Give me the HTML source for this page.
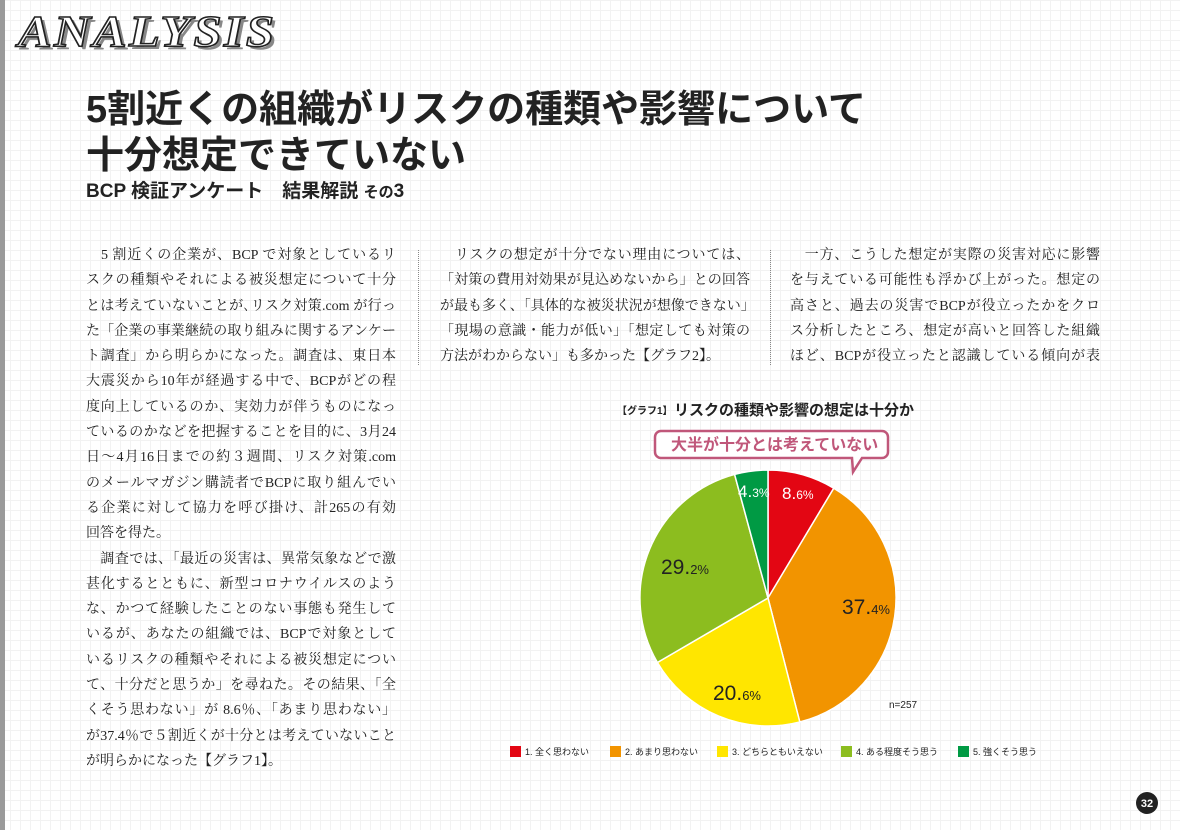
<!DOCTYPE html>
<html><head><meta charset="utf-8"><style>
body{margin:0;width:1180px;height:830px;position:relative;overflow:hidden;background:#fff;
background-image:linear-gradient(#f2f2f2 1px,transparent 1px),linear-gradient(90deg,#f2f2f2 1px,transparent 1px);background-size:10px 10px;font-family:"Liberation Sans","Noto Sans CJK JP",sans-serif;}
.edge{position:absolute;left:0;top:0;width:5px;height:830px;background:#9a9a9a}
.an{position:absolute;left:18px;top:6px;font:italic 900 44px "Liberation Serif","Noto Serif CJK SC",serif;color:#fff;-webkit-text-stroke:1.5px #222;text-shadow:3px 3px 0 #888;letter-spacing:2px;transform:scaleX(1.15);transform-origin:left}
.h1{position:absolute;left:86px;font-size:38px;font-weight:bold;color:#222;letter-spacing:0px}
.sub{position:absolute;left:86px;top:176px;font-size:19px;font-weight:bold;color:#222}
.col{position:absolute;font-family:"Liberation Serif","Noto Serif CJK SC",serif;font-size:14px;color:#222;width:310px}
.col div{height:25.3px;line-height:25.3px;text-align:justify;text-align-last:justify;white-space:nowrap}
.col div.l{text-align-last:left}
.sep{position:absolute;top:250px;height:115px;border-left:1px dotted #888}
</style></head><body>
<div class="edge"></div>
<div class="an">ANALYSIS</div>
<div class="h1" style="top:78px">5割近くの組織がリスクの種類や影響について</div>
<div class="h1" style="top:124px">十分想定できていない</div>
<div class="sub">BCP 検証アンケート　結果解説 <span style="font-size:15px">その</span>3</div>
<div class="sep" style="left:418px"></div><div class="sep" style="left:770px"></div>
<div class="col" style="left:86px;top:243px">
<div>　5 割近くの企業が、BCP で対象としているリ</div>
<div>スクの種類やそれによる被災想定について十分</div>
<div>とは考えていないことが､リスク対策.com が行っ</div>
<div>た「企業の事業継続の取り組みに関するアンケー</div>
<div>ト調査」から明らかになった。調査は、東日本</div>
<div>大震災から10年が経過する中で、BCPがどの程</div>
<div>度向上しているのか、実効力が伴うものになっ</div>
<div>ているのかなどを把握することを目的に、3月24</div>
<div>日～4月16日までの約３週間、リスク対策.com</div>
<div>のメールマガジン購読者でBCPに取り組んでい</div>
<div>る企業に対して協力を呼び掛け、計265の有効</div>
<div class="l">回答を得た。</div>
<div>　調査では、「最近の災害は、異常気象などで激</div>
<div>甚化するとともに、新型コロナウイルスのよう</div>
<div>な、かつて経験したことのない事態も発生して</div>
<div>いるが、あなたの組織では、BCPで対象として</div>
<div>いるリスクの種類やそれによる被災想定につい</div>
<div>て、十分だと思うか」を尋ねた。その結果、「全</div>
<div>くそう思わない」が 8.6％、「あまり思わない」</div>
<div>が37.4％で５割近くが十分とは考えていないこと</div>
<div class="l">が明らかになった【グラフ1】。</div>
</div>
<div class="col" style="left:440px;top:243px">
<div>　リスクの想定が十分でない理由については、</div>
<div>「対策の費用対効果が見込めないから」との回答</div>
<div>が最も多く、「具体的な被災状況が想像できない」</div>
<div>「現場の意識・能力が低い」「想定しても対策の</div>
<div class="l">方法がわからない」も多かった【グラフ2】。</div>
</div>
<div class="col" style="left:790px;top:243px">
<div>　一方、こうした想定が実際の災害対応に影響</div>
<div>を与えている可能性も浮かび上がった。想定の</div>
<div>高さと、過去の災害でBCPが役立ったかをクロ</div>
<div>ス分析したところ、想定が高いと回答した組織</div>
<div>ほど、BCPが役立ったと認識している傾向が表</div>
</div>
<svg style="position:absolute;left:0;top:0" width="1180" height="830">
<text x="617" y="414" font-size="10" font-weight="bold" fill="#222">【グラフ1】</text>
<text x="674" y="415" font-size="15" font-weight="bold" fill="#222">リスクの種類や影響の想定は十分か</text>
<path d="M661 431 H882 a6 6 0 0 1 6 6 V452 a6 6 0 0 1 -6 6 H862 L853 472 L852 458 H661 a6 6 0 0 1 -6 -6 V437 a6 6 0 0 1 6 -6Z" fill="#fff" stroke="#c0577a" stroke-width="2.5"/>
<text x="671" y="450" font-size="16" font-weight="bold" fill="#c0577a">大半が十分とは考えていない</text>
<g stroke="#fff" stroke-width="1.5">
<path d="M768 598 L768 470 A128 128 0 0 1 833.8 488.2Z" fill="#e30613"/>
<path d="M768 598 L833.8 488.2 A128 128 0 0 1 799.8 722Z" fill="#f29400"/>
<path d="M768 598 L799.8 722 A128 128 0 0 1 657.4 662.5Z" fill="#ffe600"/>
<path d="M768 598 L657.4 662.5 A128 128 0 0 1 734.6 474.4Z" fill="#8cbd1f"/>
<path d="M768 598 L734.6 474.4 A128 128 0 0 1 768 470Z" fill="#009a44"/>
</g>
<g font-size="21" fill="#222">
<text x="782" y="499" fill="#fff" font-size="17">8.<tspan font-size="12">6%</tspan></text>
<text x="738" y="497" fill="#fff" font-size="17">4.<tspan font-size="12">3%</tspan></text>
<text x="661" y="574">29.<tspan font-size="13">2%</tspan></text>
<text x="842" y="614">37.<tspan font-size="13">4%</tspan></text>
<text x="713" y="700">20.<tspan font-size="13">6%</tspan></text>
</g>
<text x="889" y="708" font-size="10" fill="#222">n=257</text>
<g font-size="9" fill="#222">
<rect x="510" y="746" width="11" height="11" fill="#e30613"/><text x="525" y="755">1. 全く思わない</text>
<rect x="610" y="746" width="11" height="11" fill="#f29400"/><text x="625" y="755">2. あまり思わない</text>
<rect x="717" y="746" width="11" height="11" fill="#ffe600"/><text x="732" y="755">3. どちらともいえない</text>
<rect x="841" y="746" width="11" height="11" fill="#8cbd1f"/><text x="856" y="755">4. ある程度そう思う</text>
<rect x="958" y="746" width="11" height="11" fill="#009a44"/><text x="973" y="755">5. 強くそう思う</text>
</g>
<circle cx="1147" cy="803" r="11" fill="#222"/>
<text x="1147" y="807" font-size="11" font-weight="bold" fill="#fff" text-anchor="middle">32</text>
</svg>
</body></html>
